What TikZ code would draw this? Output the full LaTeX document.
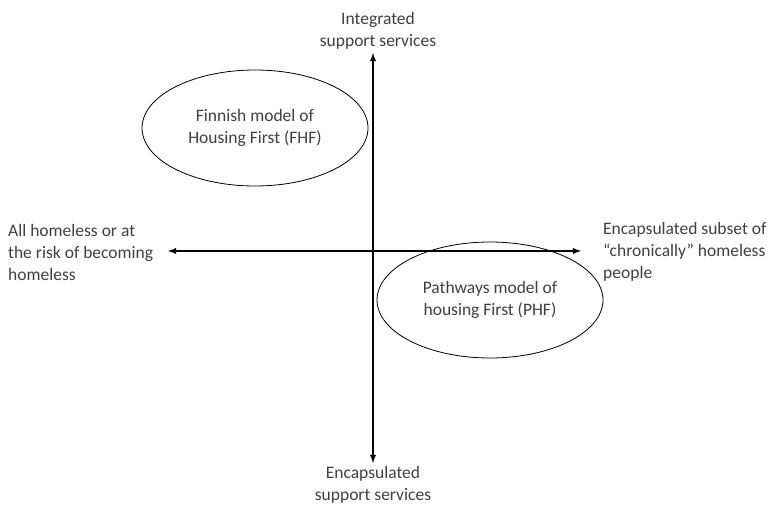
\documentclass[tikz,border=0pt]{standalone}
\usepackage{fontspec}
\setmainfont{Carlito}
\usetikzlibrary{arrows,shapes.geometric}

\begin{document}
\begin{tikzpicture}[x=1pt,y=-1pt,
	axis/.style={line width=1.8pt,latex-latex},
	model/.style={draw,ellipse,line width=0.8pt,minimum width=226pt,minimum height=116pt,align=center,text=black!75},
	lbl/.style={font=\fontsize{17.5}{22}\selectfont,text=black!75,inner sep=0pt}]
	\useasboundingbox (0,0) rectangle (780,506);
	\coordinate (top) at (373,53);
	\coordinate (bottom) at (373,463);
	\coordinate (left) at (168,251);
	\coordinate (right) at (581,251);
	\draw[axis] (bottom) -- (top);
	\draw[axis] (left) -- (right);
	\node[model,lbl] (fhf) at (255,128) {Finnish model of\\Housing First (FHF)};
	\node[model,lbl] (phf) at (490,300) {Pathways model of\\housing First (PHF)};
	\node[lbl,align=center,anchor=south] (integrated) at (378,50) {Integrated\\support services};
	\node[lbl,align=center,anchor=north] (encsupport) at (373,466) {Encapsulated\\support services};
	\node[lbl,align=left,anchor=west] (allhomeless) at (8,252) {All homeless or at\\the risk of becoming\\homeless};
	\node[lbl,align=left,anchor=west] (chronic) at (603,252) {Encapsulated subset of\\``chronically'' homeless\\people};
\end{tikzpicture}
\end{document}
